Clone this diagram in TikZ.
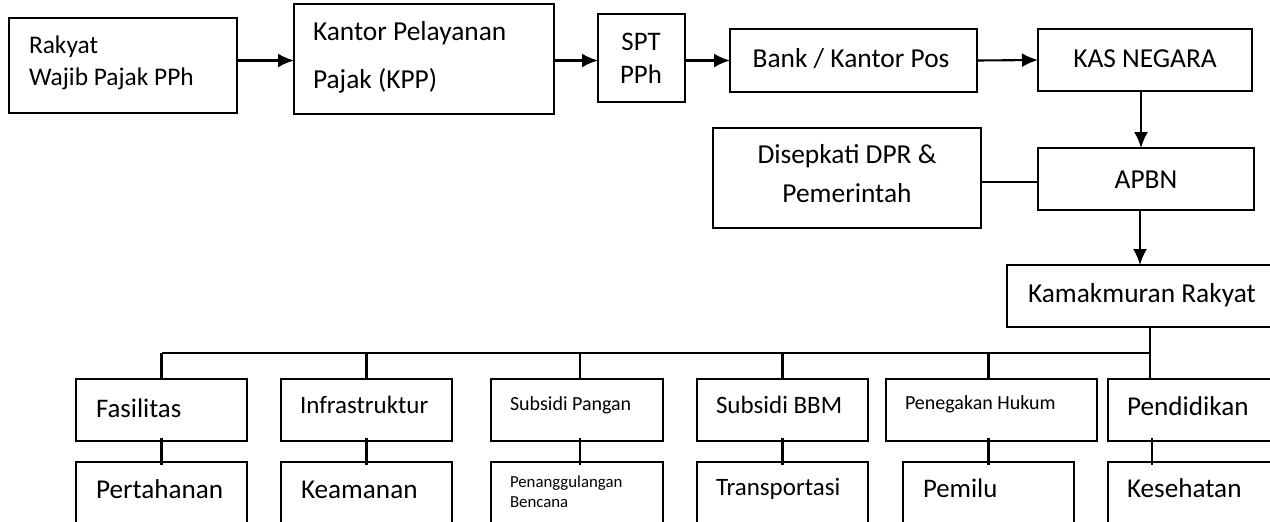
\documentclass[tikz,border=0pt]{standalone}
\usepackage{fontspec}
\setmainfont{Carlito}
\usetikzlibrary{fit,arrows.meta}
\newcommand\myfs[1]{\fontsize{#1}{#1}\selectfont}
\begin{document}
\begin{tikzpicture}[x=0.5pt,y=-0.5pt,
  box/.style={draw, line width=1.05pt, inner sep=0pt, outer sep=0pt},
  txt/.style={inner sep=0pt, outer sep=0pt, font=\myfs{13.7}},
  arr/.style={line width=1.05pt, -{Latex[length=8pt,width=7pt]}},
  ln/.style={line width=1.05pt},
  tick/.style={line width=1.05pt, shorten <=-1.5pt, shorten >=-1.5pt}]
\useasboundingbox (0,0) rectangle (1270,521);
\clip (0,0) rectangle (1270,521);
% boxes
\node[box, fit={(9,18) (237,113)}] (rakyat) {};
\node[box, fit={(294,4) (554,114)}] (kpp) {};
\node[box, fit={(598,14) (685,102)}] (spt) {};
\node[box, fit={(730,29) (977,92)}] (bank) {};
\node[box, fit={(1038,29) (1252,91)}] (kas) {};
\node[box, fit={(713,128) (981,228)}] (disep) {};
\node[box, fit={(1038,148) (1254,210)}] (apbn) {};
\node[box, fit={(1007,265) (1300,327)}] (kam) {};
\node[box, fit={(76,379) (247,441)}] (fas) {};
\node[box, fit={(281,379) (452,441)}] (inf) {};
\node[box, fit={(491,379) (663,441)}] (sp) {};
\node[box, fit={(697,379) (868,441)}] (sbbm) {};
\node[box, fit={(886,379) (1097,441)}] (pen) {};
\node[box, fit={(1108,379) (1300,441)}] (pend) {};
\node[box, fit={(76,462) (247,545)}] (pert) {};
\node[box, fit={(281,462) (452,545)}] (kea) {};
\node[box, fit={(491,462) (663,545)}] (pb) {};
\node[box, fit={(697,462) (868,545)}] (tra) {};
\node[box, fit={(903,462) (1074,545)}] (pem) {};
\node[box, fit={(1108,462) (1300,545)}] (kes) {};
% texts
\node[txt, font=\myfs{12.7}, anchor=base west] (tr1) at (29,53) {Rakyat};
\node[txt, font=\myfs{12.7}, anchor=base west] (tr2) at (29,85) {Wajib Pajak PPh};
\node[txt, anchor=base west] (tk1) at (313,40) {Kantor Pelayanan};
\node[txt, anchor=base west] (tk2) at (313,88) {Pajak (KPP)};
\node[txt, font=\myfs{13.4}, anchor=base] (ts1) at (641,50) {SPT};
\node[txt, font=\myfs{13.4}, anchor=base] (ts2) at (641,83) {PPh};
\node[txt, anchor=base] (tb) at (851,67) {Bank / Kantor Pos};
\node[txt, anchor=base] (tkas) at (1145,67) {KAS NEGARA};
\node[txt, anchor=base] (td1) at (847,163) {Disepkati DPR \&};
\node[txt, anchor=base] (td2) at (847,202) {Pemerintah};
\node[txt, anchor=base] (ta) at (1146,188) {APBN};
\node[txt, anchor=base west] (tkam) at (1028,302) {Kamakmuran Rakyat};
\node[txt, font=\myfs{13.4}, anchor=base west] (tfas) at (96,417) {Fasilitas};
\node[txt, font=\myfs{12.5}, anchor=base west] (tinf) at (300,413) {Infrastruktur};
\node[txt, font=\myfs{10}, anchor=base west] (tsp) at (510,410) {Subsidi Pangan};
\node[txt, font=\myfs{12.5}, anchor=base west] (tsb) at (716,413) {Subsidi BBM};
\node[txt, font=\myfs{10}, anchor=base west] (tpen) at (905,409) {Penegakan Hukum};
\node[txt, font=\myfs{13.6}, anchor=base west] (tpend) at (1127,415) {Pendidikan};
\node[txt, font=\myfs{13.6}, anchor=base west] (tpert) at (96,498) {Pertahanan};
\node[txt, font=\myfs{13.6}, anchor=base west] (tkea) at (301,498) {Keamanan};
\node[txt, font=\myfs{8.4}, anchor=base west] (tpb1) at (510,487) {Penanggulangan};
\node[txt, font=\myfs{8.4}, anchor=base west] (tpb2) at (510,507) {Bencana};
\node[txt, font=\myfs{12.5}, anchor=base west] (ttra) at (716,495) {Transportasi};
\node[txt, font=\myfs{13.4}, anchor=base west] (tpem) at (923,497) {Pemilu};
\node[txt, font=\myfs{13.6}, anchor=base west] (tkes) at (1127,497) {Kesehatan};
% connectors top row
\draw[arr] (rakyat.east |- bank) -- (kpp.west |- bank);
\draw[arr] (kpp.east |- bank) -- (spt.west |- bank);
\draw[arr] (spt.east |- bank) -- (bank.west);
\draw[arr] (bank.east) -- (kas.west);
\draw[arr] ([xshift=-2pt]kas.south) -- ([xshift=-2pt]kas.south |- apbn.north);
\draw[ln] ([yshift=-1.5pt]disep.east |- apbn) -- ([yshift=-1.5pt]apbn.west);
\draw[arr] ([xshift=-3pt]apbn.south) -- ([xshift=-3pt]apbn.south |- kam.north);
% tree
\coordinate (hub) at (1150,353);
\coordinate (sk) at (1152,441);
\draw[ln] (hub |- kam.south) -- (hub) -- (hub |- pend.north);
\draw[ln] (fas.north |- hub) -- (hub);
\draw[ln] (fas.north) -- (fas.north |- hub);
\draw[ln] (inf.north) -- (inf.north |- hub);
\draw[ln] ([xshift=1.5pt]sp.north) -- ([xshift=1.5pt]sp.north |- hub);
\draw[ln] (sbbm.north) -- (sbbm.north |- hub);
\draw[ln] ([xshift=-1.5pt]pen.north) -- ([xshift=-1.5pt]pen.north |- hub);
% second row ticks
\draw[tick] (fas.south) -- (pert.north);
\draw[tick] (inf.south) -- (kea.north);
\draw[tick] ([xshift=1.5pt]sp.south) -- ([xshift=1.5pt]pb.north);
\draw[tick] (sbbm.south) -- (tra.north);
\draw[tick] (pem.north |- pen.south) -- (pem.north);
\draw[tick] (sk) -- (sk |- kes.north);
\end{tikzpicture}
\end{document}
